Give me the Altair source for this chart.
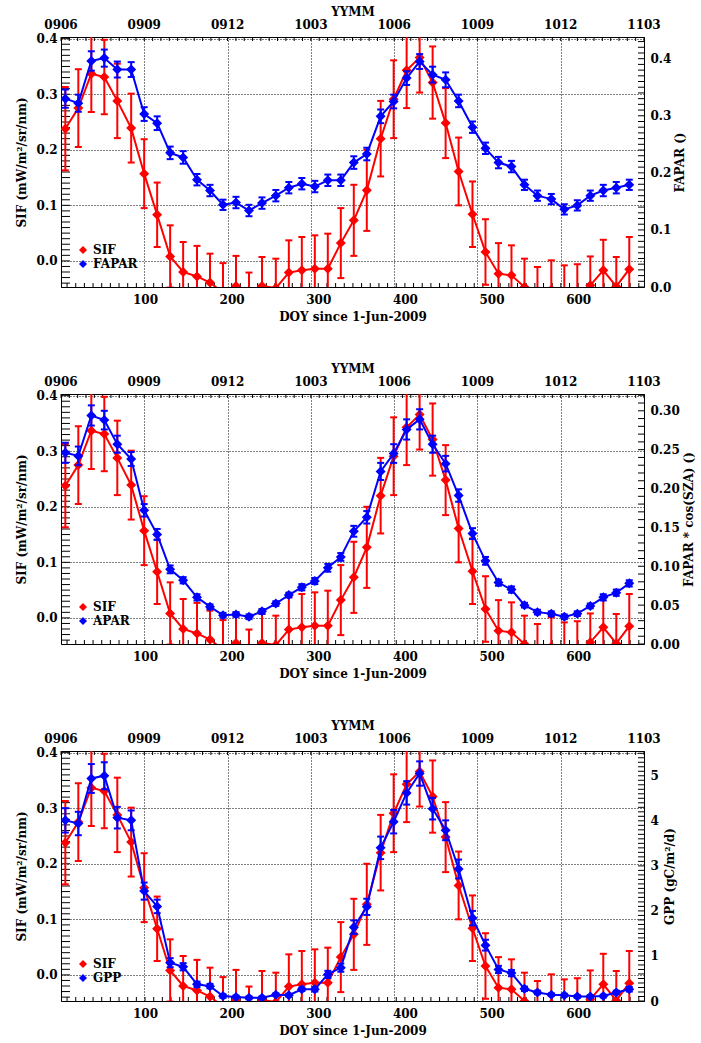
import altair as alt
import pandas as pd

# ---------------- data ----------------
days = [8, 23, 38, 53, 68, 84, 99, 114, 129, 144, 160, 175, 190, 205, 220, 235,
        251, 266, 281, 296, 311, 326, 341, 356, 372, 387, 402, 417, 432, 447,
        462, 478, 493, 508, 523, 538, 553, 569, 584, 599, 614, 629, 644, 659]

sif = [0.238, 0.275, 0.337, 0.331, 0.288, 0.239, 0.157, 0.083, 0.008, -0.020,
       -0.028, -0.039, -0.057, -0.045, -0.074, -0.045, -0.049, -0.021, -0.017, -0.014,
       -0.014, 0.032, 0.073, 0.127, 0.220, 0.291, 0.343, 0.366, 0.321, 0.248,
       0.161, 0.084, 0.016, -0.023, -0.026, -0.047, -0.064, -0.052, -0.061, -0.059,
       -0.044, -0.017, -0.046, -0.015]
sif_err = [0.075, 0.070, 0.069, 0.067, 0.067, 0.062, 0.062, 0.058, 0.056, 0.054,
           0.055, 0.052, 0.053, 0.054, 0.053, 0.052, 0.053, 0.058, 0.060, 0.060,
           0.063, 0.063, 0.064, 0.073, 0.068, 0.070, 0.068, 0.063, 0.065, 0.063,
           0.061, 0.059, 0.059, 0.055, 0.054, 0.051, 0.053, 0.053, 0.053, 0.053,
           0.052, 0.055, 0.053, 0.058]

fapar = [0.330, 0.322, 0.396, 0.401, 0.381, 0.381, 0.303, 0.287, 0.235, 0.227,
         0.188, 0.169, 0.144, 0.148, 0.134, 0.147, 0.160, 0.174, 0.181, 0.176,
         0.187, 0.187, 0.218, 0.233, 0.299, 0.325, 0.366, 0.395, 0.372, 0.363,
         0.326, 0.280, 0.243, 0.218, 0.211, 0.179, 0.160, 0.154, 0.136, 0.143,
         0.160, 0.169, 0.174, 0.179]
fapar_err = [0.016, 0.015, 0.017, 0.015, 0.014, 0.013, 0.012, 0.012, 0.011, 0.011,
             0.010, 0.010, 0.009, 0.010, 0.010, 0.010, 0.010, 0.010, 0.010, 0.010,
             0.010, 0.010, 0.011, 0.011, 0.012, 0.012, 0.012, 0.013, 0.014, 0.013,
             0.011, 0.010, 0.010, 0.010, 0.010, 0.009, 0.009, 0.009, 0.009, 0.009,
             0.009, 0.010, 0.010, 0.009]

apar = [0.246, 0.242, 0.294, 0.288, 0.257, 0.238, 0.172, 0.141, 0.096, 0.082,
        0.060, 0.048, 0.037, 0.038, 0.035, 0.042, 0.052, 0.063, 0.073, 0.081,
        0.098, 0.112, 0.145, 0.163, 0.222, 0.245, 0.276, 0.289, 0.257, 0.232,
        0.191, 0.142, 0.107, 0.079, 0.070, 0.050, 0.041, 0.039, 0.035, 0.039,
        0.049, 0.060, 0.066, 0.078]
apar_err = [0.013, 0.012, 0.013, 0.012, 0.011, 0.009, 0.008, 0.007, 0.005, 0.004,
            0.004, 0.003, 0.003, 0.003, 0.003, 0.003, 0.003, 0.003, 0.004, 0.004,
            0.005, 0.005, 0.007, 0.008, 0.011, 0.012, 0.013, 0.013, 0.011, 0.010,
            0.008, 0.007, 0.005, 0.004, 0.004, 0.003, 0.003, 0.003, 0.003, 0.003,
            0.003, 0.004, 0.004, 0.004]

gpp = [4.01, 3.94, 4.94, 5.00, 4.07, 4.01, 2.44, 2.10, 0.85, 0.76,
       0.37, 0.33, 0.11, 0.09, 0.07, 0.07, 0.14, 0.13, 0.26, 0.26,
       0.59, 0.74, 1.64, 2.09, 3.40, 3.98, 4.62, 5.05, 4.27, 3.79,
       2.93, 1.84, 1.24, 0.70, 0.62, 0.27, 0.19, 0.14, 0.13, 0.10,
       0.10, 0.11, 0.19, 0.26]
gpp_err = [0.27, 0.26, 0.32, 0.30, 0.24, 0.22, 0.19, 0.15, 0.10, 0.08,
           0.06, 0.05, 0.04, 0.03, 0.03, 0.03, 0.03, 0.03, 0.04, 0.05,
           0.08, 0.09, 0.15, 0.18, 0.25, 0.26, 0.26, 0.27, 0.24, 0.22,
           0.21, 0.16, 0.12, 0.08, 0.07, 0.05, 0.04, 0.03, 0.03, 0.03,
           0.03, 0.03, 0.04, 0.05]

yymm_labels = ["0906", "0909", "0912", "1003", "1006", "1009", "1012", "1103"]
# the YYMM axis splits the DOY range into 7 equal steps
yymm_pos = [3.0, 99.1, 195.3, 291.4, 387.6, 483.7, 579.9, 676.0]
doy_ticks = [100, 200, 300, 400, 500, 600]
sif_ticks = [0.0, 0.1, 0.2, 0.3, 0.4]

# ---------------- styling ----------------
FONT = "DejaVu Serif"
FS = 12
FW = "bold"
W, H = 583, 250
RED = "#ff0000"
BLUE = "#0000ff"
X_DOMAIN = [3, 676]
SIF_DOMAIN = [-0.047, 0.403]
DASH = [1, 2]


def frange(a, b, step, nd=4):
    n = int(round((b - a) / step))
    return [round(a + i * step, nd) for i in range(n + 1)]


def sc(dom):
    return alt.Scale(domain=dom, nice=False, zero=False)


def panel(name, vals, errs, dom, rtitle, rvals, rminor, rfmt, rtitle_pad):
    cscale = alt.Scale(domain=["SIF", name], range=[RED, BLUE])
    legend = alt.Legend(orient="none", legendX=16, legendY=207, title=None,
                        symbolType="diamond", symbolSize=64, symbolStrokeWidth=0,
                        labelFont=FONT, labelFontSize=FS, labelFontWeight=FW,
                        labelColor="black", rowPadding=2, padding=0, labelOffset=4)

    sdf = pd.DataFrame({"day": days, "v": sif, "err": sif_err})
    sdf["lo"] = sdf["v"] - sdf["err"]
    sdf["hi"] = sdf["v"] + sdf["err"]
    sdf["series"] = "SIF"

    bdf = pd.DataFrame({"day": days, "v": vals, "err": errs})
    bdf["lo"] = bdf["v"] - bdf["err"]
    bdf["hi"] = bdf["v"] + bdf["err"]
    bdf["series"] = name

    leaves = []

    # ---- axis carriers (each also draws the inward minor ticks of its side) ----
    y_axis = alt.Axis(orient="left", values=sif_ticks, format=".1f", grid=True,
                      gridDash=DASH, gridColor="black", gridOpacity=1, ticks=False,
                      domain=False, title="SIF (mW/m\u00b2/sr/nm)", labelPadding=4,
                      titlePadding=8)
    lt = pd.DataFrame({"t": frange(-0.04, 0.40, 0.01)})
    leaves.append(alt.Chart(lt).mark_tick(orient="horizontal", size=9, thickness=1,
                                          color="black", opacity=1, xOffset=4.5).encode(
        y=alt.Y("t:Q", scale=sc(SIF_DOMAIN), axis=y_axis),
        x=alt.XDatum(X_DOMAIN[0], type="quantitative", scale=sc(X_DOMAIN), axis=None)))

    # top (YYMM) axis: grid + title from the axis, labels as text marks
    t_axis = alt.Axis(orient="top", values=yymm_pos, labels=False, grid=True,
                      gridDash=DASH, gridColor="black", gridOpacity=1, ticks=False,
                      domain=False, title="YYMM", titlePadding=19)
    tt = pd.DataFrame({"t": frange(3, 676, 9.614)})
    leaves.append(alt.Chart(tt).mark_tick(orient="vertical", size=4, thickness=1,
                                          color="black", opacity=1, yOffset=2).encode(
        x=alt.X("t:Q", scale=sc(X_DOMAIN), axis=t_axis),
        y=alt.YDatum(SIF_DOMAIN[1], type="quantitative", scale=sc(SIF_DOMAIN), axis=None)))
    tl = pd.DataFrame({"t": yymm_pos, "lab": yymm_labels})
    leaves.append(alt.Chart(tl).mark_text(font=FONT, fontSize=FS, fontWeight=FW,
                                          color="black", align="center",
                                          baseline="middle", dy=-12).encode(
        x=alt.X("t:Q", scale=sc(X_DOMAIN), axis=None),
        y=alt.YDatum(SIF_DOMAIN[1], type="quantitative", scale=sc(SIF_DOMAIN), axis=None),
        text="lab:N"))

    x_axis = alt.Axis(orient="bottom", values=doy_ticks, format="d", grid=False,
                      ticks=False, domain=False, title="DOY since 1-Jun-2009",
                      labelPadding=7, titlePadding=6, labelFlush=False)
    bt = pd.DataFrame({"t": frange(10, 670, 10)})
    leaves.append(alt.Chart(bt).mark_tick(orient="vertical", size=4, thickness=1,
                                          color="black", opacity=1, yOffset=-2).encode(
        x=alt.X("t:Q", scale=sc(X_DOMAIN), axis=x_axis),
        y=alt.YDatum(SIF_DOMAIN[0], type="quantitative", scale=sc(SIF_DOMAIN), axis=None)))

    r_axis = alt.Axis(orient="right", values=rvals, format=rfmt, grid=False,
                      ticks=False, domain=False, title=rtitle, titleAngle=270,
                      titleBaseline="top", labelPadding=6, titlePadding=rtitle_pad)
    rt = pd.DataFrame({"t": rminor})
    leaves.append(alt.Chart(rt).mark_tick(orient="horizontal", size=6, thickness=1,
                                          color="black", opacity=1, xOffset=-3).encode(
        y=alt.Y("t:Q", scale=sc(dom), axis=r_axis),
        x=alt.XDatum(X_DOMAIN[1], type="quantitative", scale=sc(X_DOMAIN), axis=None)))

    # ---- data series ----
    for df, color, ydom in ((sdf, RED, SIF_DOMAIN), (bdf, BLUE, dom)):
        base = alt.Chart(df)
        leaves.append(base.mark_rule(color=color, strokeWidth=2, clip=True).encode(
            x=alt.X("day:Q", scale=sc(X_DOMAIN), axis=None),
            y=alt.Y("lo:Q", scale=sc(ydom), axis=None), y2="hi:Q"))
        for f in ("hi", "lo"):
            leaves.append(base.mark_tick(orient="horizontal", size=7, thickness=2,
                                         color=color, opacity=1, clip=True).encode(
                x=alt.X("day:Q", scale=sc(X_DOMAIN), axis=None),
                y=alt.Y(f + ":Q", scale=sc(ydom), axis=None)))
        leaves.append(base.mark_line(color=color, strokeWidth=2, clip=True).encode(
            x=alt.X("day:Q", scale=sc(X_DOMAIN), axis=None),
            y=alt.Y("v:Q", scale=sc(ydom), axis=None)))
        leaves.append(base.mark_point(shape="diamond", filled=True, size=100,
                                      opacity=1, clip=True).encode(
            x=alt.X("day:Q", scale=sc(X_DOMAIN), axis=None),
            y=alt.Y("v:Q", scale=sc(ydom), axis=None),
            color=alt.Color("series:N", scale=cscale, legend=legend)))

    return alt.layer(*leaves).resolve_scale(
        x="independent", y="independent").properties(width=W, height=H)


p1 = panel("FAPAR", fapar, fapar_err, [0, 0.438], "FAPAR ()",
           [0.0, 0.1, 0.2, 0.3, 0.4], frange(0, 0.43, 0.01), ".1f", 4)
p2 = panel("APAR", apar, apar_err, [0, 0.3216], "FAPAR * cos(SZA) ()",
           [0.0, 0.05, 0.10, 0.15, 0.20, 0.25, 0.30], frange(0, 0.32, 0.01), ".2f", 4)
p3 = panel("GPP", gpp, gpp_err, [0, 5.55], "GPP (gC/m\u00b2/d)",
           [0, 1, 2, 3, 4, 5], frange(0, 5.5, 0.1), "d", 6)

chart = alt.vconcat(p1, p2, p3, spacing=107, bounds="flush").resolve_scale(
    color="independent"
).properties(
    padding={"left": 14, "top": 4, "right": 5, "bottom": 5},
    background="white"
).configure_axis(
    labelFont=FONT, titleFont=FONT, labelFontSize=FS, titleFontSize=FS,
    labelFontWeight=FW, titleFontWeight=FW, labelColor="black", titleColor="black"
).configure_view(
    stroke="black", strokeWidth=1
)

chart.save("out.html", embed_options={"renderer": "svg", "actions": False})
